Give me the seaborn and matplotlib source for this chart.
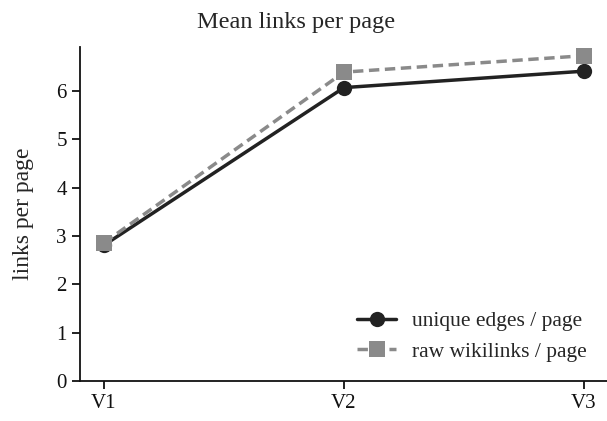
import pandas as pd
import matplotlib
matplotlib.use('Agg')
import matplotlib.pyplot as plt
import seaborn as sns

versions = ['V1', 'V2', 'V3']
unique_edges = [2.81, 6.07, 6.41]
raw_wikilinks = [2.86, 6.39, 6.73]
series_names = ['unique edges / page', 'raw wikilinks / page']

sns.set_style('ticks')
plt.rcParams['font.family'] = ['Liberation Serif', 'DejaVu Serif']
plt.rcParams['axes.edgecolor'] = '#111111'
plt.rcParams['axes.linewidth'] = 1.3
plt.rcParams['xtick.major.width'] = 1.3
plt.rcParams['ytick.major.width'] = 1.3
plt.rcParams['xtick.major.size'] = 6
plt.rcParams['ytick.major.size'] = 6

df = pd.DataFrame({
    'version': versions * 2,
    'value': unique_edges + raw_wikilinks,
    'series': [series_names[0]] * 3 + [series_names[1]] * 3,
})

fig = plt.figure(figsize=(6.07, 4.21), dpi=100)
ax = fig.add_axes([80 / 607, 40 / 421, 528 / 607, 334 / 421])

sns.lineplot(data=df, x='version', y='value', hue='series', style='series',
             palette={series_names[0]: '#222222', series_names[1]: '#8a8a8a'},
             markers={series_names[0]: 'o', series_names[1]: 's'},
             dashes={series_names[0]: '', series_names[1]: (3, 1.6)},
             linewidth=2.5, markersize=11, markeredgewidth=0, sort=False, ax=ax)

ax.set_xlim(-0.1, 2.1)
ax.set_ylim(0, 6.91)
ax.set_yticks(range(0, 7))
ax.tick_params(labelsize=15, colors='#111111')
ax.set_xlabel('')
ax.set_ylabel('links per page', fontsize=17)
ax.yaxis.set_label_coords(-0.088, 0.5)
ax.set_title('Mean links per page', fontsize=17.5, x=0.41, pad=14)
sns.despine(ax=ax)

leg = ax.legend(loc='lower right', bbox_to_anchor=(0.997, 0.0), frameon=False,
                fontsize=15.5, handlelength=1.8, handletextpad=0.75, labelspacing=0.48)
for h in leg.legend_handles:
    h.set_markersize(11)

fig.savefig('out.png', dpi=100)
